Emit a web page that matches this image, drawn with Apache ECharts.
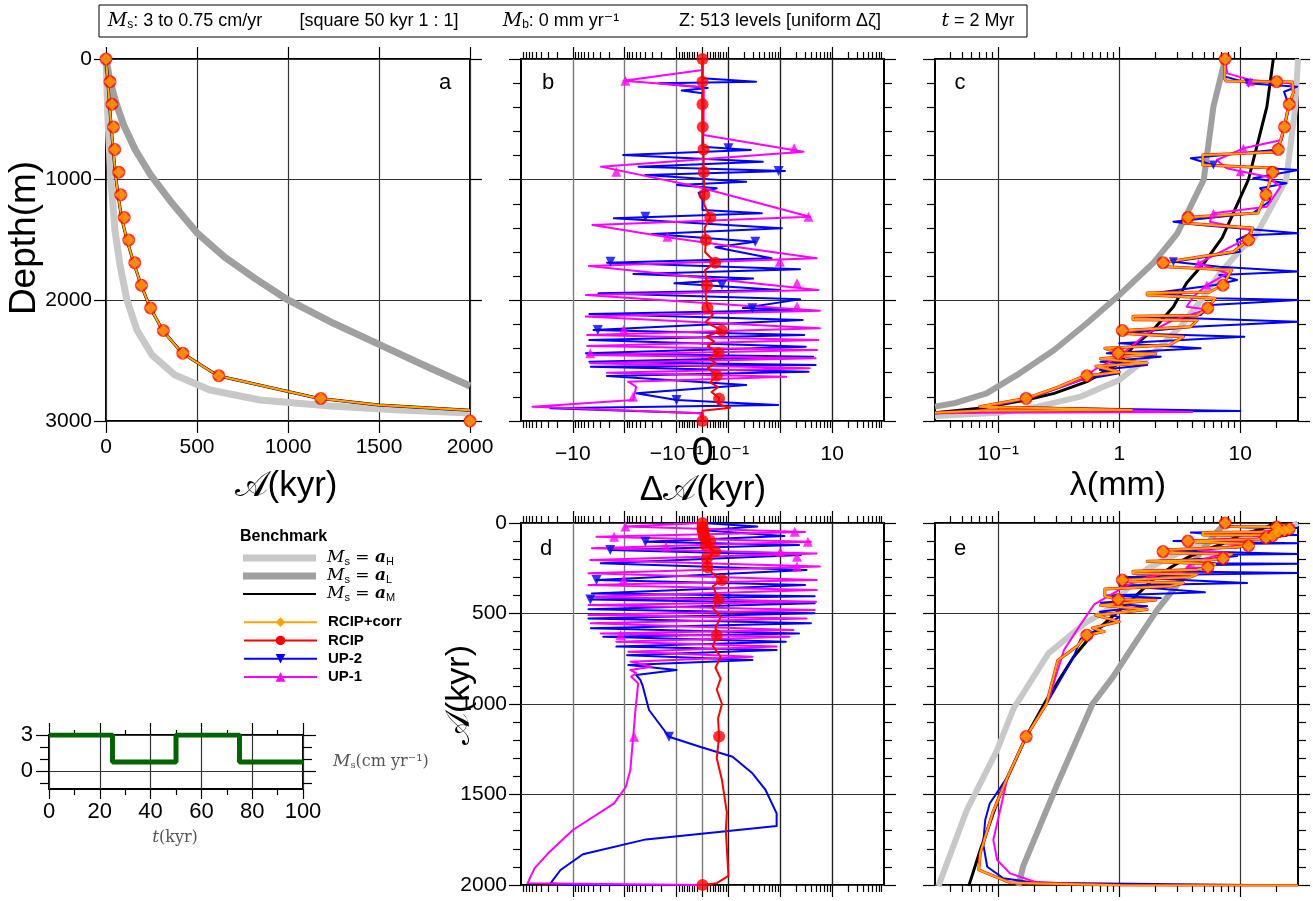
<!DOCTYPE html>
<html>
<head>
<meta charset="utf-8">
<script src="https://cdn.jsdelivr.net/npm/echarts@6/dist/echarts.min.js"></script>
<style>
html,body{margin:0;padding:0;background:#fff;}
#chart{width:1313px;height:901px;}
</style>
</head>
<body>
<div id="chart"></div>
<script>
// ================= DATA =================
// Marker layers (every 187.5 m): depth (m), age A (kyr), age error dA (kyr), layer thickness lambda (mm)
const markDepth = [0,187.5,375,562.5,750,937.5,1125,1312.5,1500,1687.5,1875,2062.5,2250,2437.5,2625,2812.5,3000];
const markAge   = [0,22,33,41,48,70,81,100,125,158,195,245,315,422,620,1180,2000];
const markDA    = [0,0,0,0.001,0.004,0.005,0.007,0.03,0.013,0.049,0.017,0.019,0.075,0.062,0.055,0.064,0];
const markLam   = [7.5,20,25.4,23.2,20.6,18.5,16.3,3.7,11.7,2.3,7.2,5.4,1.06,0.98,0.54,0.17,null];

// Panel a : [A (kyr), depth (m)]
const a_aH = [[0,0],[11,505],[27,1003],[49,1417],[77,1707],[115,1997],[170,2246],[253,2453],[379,2619],[571,2743],[846,2826],[1231,2876],[1615,2909],[2000,2934]];
const a_aL = [[0,0],[20,170],[50,340],[95,540],[160,750],[245,960],[355,1180],[500,1440],[650,1640],[820,1820],[1000,1997],[1250,2190],[1500,2365],[1750,2540],[2000,2710]];
const a_aM = [[0,0],[10,187],[19,375],[29,562],[39,750],[51,937],[66,1125],[85,1312],[115,1500],[152,1687],[193,1875],[243,2062],[312,2250],[418,2437],[615,2625],[1165,2812],[1500,2868],[2000,2910]];

// Panel b : [dA (kyr), depth (m)]
const b_up2 = [[0,0],[0,160],[0.34,188],[-0.22,201],[0.02,240],[-0.08,262],[0,284],[0,727],[0.27,754],[-1.07,796],[0.46,851],[-0.54,892],[1.23,928],[-0.4,961],[0.22,1017],[-0.098,1044],[0.055,1072],[-0.015,1108],[0,1168],[0,1251],[0.44,1279],[-1.62,1320],[1.07,1403],[-0.3,1450],[0.33,1514],[0.05,1560],[0.68,1652],[-2.19,1688],[2.4,1743],[-0.68,1782],[0.3,1820],[-0.11,1859],[0.98,1914],[-3.2,1942],[2.4,1992],[0.19,2064],[2.4,2080],[-4.8,2113],[2.7,2163],[-4.0,2246],[2.9,2287],[-4.8,2329],[3.1,2384],[-5.6,2439],[4.3,2467],[-4.8,2508],[4.8,2536],[-4.5,2550],[3.5,2591],[-2.2,2627],[0.22,2702],[-0.6,2770],[-0.1,2826],[0.91,2867],[-27,2895],[0,2936],[0,3000]];
const b_up2Marks = [[0.1,740],[0.93,928],[-0.4,1307],[0.33,1514],[-1.88,1680],[0.075,1873],[0.29,2066],[-3.3,2246],[-0.1,2826]];
const b_up1 = [[0,0],[0,91],[-1.05,180],[-0.01,230],[0.005,251],[0.004,630],[2.8,768],[-2.9,892],[-0.02,1058],[3.7,1307],[-4.2,1376],[-0.11,1486],[5.0,1652],[-4.9,1715],[5.4,1914],[-5.6,1956],[5.8,2086],[-5.6,2135],[5.8,2232],[-5.3,2287],[5.4,2329],[-5.3,2378],[5.1,2411],[-5.3,2453],[4.8,2481],[-4.6,2522],[3.7,2563],[-2.2,2600],[1.3,2633],[-0.86,2674],[-0.6,2716],[-0.69,2826],[-60,2881],[-0.01,2936],[0,3000]];
const b_up1Marks = [[-0.97,180],[1.85,740],[-1.45,934],[3.5,1307],[-0.15,1473],[0.98,1680],[2.1,1859],[2.1,2052],[-1.05,2246],[-4.6,2439],[-0.69,2798]];
const b_rcip = [[0,0],[0,187],[0,375],[0.001,562],[0.004,750],[0.005,937],[0.007,1125],[0.005,1200],[0.03,1312],[0.008,1400],[0.013,1500],[0.01,1600],[0.049,1687],[0.01,1750],[0.017,1875],[0.012,1950],[0.019,2062],[0.04,2120],[0.012,2180],[0.075,2250],[0.015,2300],[0.045,2340],[0.02,2380],[0.062,2437],[0.025,2480],[0.05,2520],[0.02,2560],[0.055,2625],[0.03,2680],[0.06,2720],[0.035,2760],[0.064,2812],[0.06,2860],[0.107,2890],[0,2915],[0,3000]];

// Panel c : [lambda (mm), depth (m)]
const c_aH = [[30,0],[28.5,395],[24,997],[13.3,1472],[10,1583],[6.8,1776],[5.0,1970],[3.2,2218],[1.9,2439],[1.0,2660],[0.48,2798],[0.21,2881],[0.1,2931],[0.043,2950],[0.03,2958]];
const c_aL = [[7.5,0],[6.0,395],[5.0,997],[3.0,1450],[1.9,1693],[1.0,1956],[0.54,2190],[0.29,2412],[0.15,2605],[0.08,2771],[0.043,2853],[0.03,2881]];
const c_aM = [[18.75,0],[16.6,395],[11.7,997],[7.1,1480],[5.0,1693],[3.6,1856],[2.8,2053],[1.9,2246],[1.3,2384],[1.0,2520],[0.54,2674],[0.29,2771],[0.17,2826],[0.07,2895],[0.03,2931]];
const c_corr = [[7.5,0],[7.4,160],[7.6,182],[20,188],[27,190],[27.5,280],[25.4,367],[23.2,555],[20.6,748],[20,770],[4.9,796],[4.9,878],[18.8,903],[18.5,942],[16.3,1121],[14,1276],[3.7,1312],[3.4,1334],[3.4,1359],[12.7,1400],[11.7,1500],[8.8,1597],[2.5,1680],[2.3,1688],[2.4,1721],[8.5,1749],[7.2,1873],[5.6,1931],[1.7,1939],[1.7,1956],[6.2,1983],[5.4,2064],[4.4,2125],[1.3,2132],[1.3,2160],[4.4,2166],[3.9,2218],[1.06,2250],[1.0,2273],[3.4,2301],[2.6,2370],[0.76,2398],[0.76,2412],[0.98,2437],[2.0,2442],[0.7,2484],[1.7,2519],[0.64,2546],[1.0,2594],[0.54,2625],[0.5,2635],[0.45,2650],[0.31,2720],[0.17,2812],[0.07,2881],[1.27,2909],[0.07,2915],[0.03,2931]];
const c_up2 = [[7.5,0],[7.5,146],[11.7,201],[29.5,229],[23,271],[25.4,395],[22,671],[18.9,754],[3.9,823],[6.0,878],[30,920],[12.8,989],[24.1,1030],[14.6,1072],[18,1168],[12.7,1279],[2.8,1348],[4.7,1376],[30,1445],[11.4,1460],[9.4,1500],[10,1597],[2.8,1680],[6.7,1721],[30,1762],[6.7,1790],[9.4,1831],[6.2,1873],[1.9,1942],[6.2,1983],[30,1997],[5.7,2038],[4.7,2121],[1.4,2135],[30,2177],[4.1,2218],[1.1,2273],[10.8,2301],[1.0,2356],[4.7,2398],[0.79,2439],[2.2,2467],[0.7,2508],[1.7,2536],[0.69,2577],[1.0,2605],[0.48,2660],[0.18,2812],[0.08,2881],[10,2917],[0.08,2925],[0.03,2936]];
const c_up2Marks = [[11.7,201],[6.0,878],[2.8,1680]];
const c_up1 = [[7.5,0],[7.8,119],[12.1,174],[26,201],[27.4,284],[24.1,450],[22,671],[10.6,740],[6.4,837],[7.7,906],[16.6,975],[21.5,1058],[16.6,1224],[6.0,1279],[5.6,1348],[12.1,1417],[11.4,1486],[4.5,1693],[7.8,1776],[5.3,1873],[4.1,1970],[3.6,2053],[5.3,2076],[2.8,2163],[1.7,2273],[1.3,2370],[1.0,2467],[0.62,2577],[0.48,2660],[0.18,2812],[0.081,2881],[4.0,2925],[0.07,2931],[0.03,2936]];
const c_up1Marks = [[12.1,188],[10.6,740],[10,934],[6.0,1279],[4.5,1693],[5.3,1873]];

// Panel d : [dA (kyr), A (kyr)]
const d_up2 = [[0,0],[0.36,20],[0,40],[1.2,72],[-0.4,103],[2.3,122],[-1.9,149],[2.5,177],[-2.9,223],[3.2,260],[-3.5,315],[3.0,343],[-4.3,389],[4.6,405],[-4.6,422],[4.6,444],[-5.0,477],[4.6,499],[-5.0,527],[3.9,554],[-4.5,582],[2.3,610],[-2.6,628],[1.28,656],[-1.45,683],[0.85,702],[-0.9,730],[0.29,757],[-0.85,785],[-0.1,812],[-0.6,840],[-0.5,867],[-0.45,900],[-0.34,1033],[-0.14,1181],[-0.01,1236],[0.12,1291],[0.29,1383],[0.52,1475],[0.85,1604],[0.85,1674],[-0.39,1748],[-6.4,1830],[-17.3,1917],[-27,1991],[-11,2000],[0,2000]];
const d_up2Marks = [[-0.4,103],[-1.9,149],[-3.5,315],[-4.6,422],[-0.14,1181]];
const d_up1 = [[0,0],[-0.97,20],[3.0,50],[-3.5,76],[3.9,103],[-4.3,140],[5.0,168],[-4.6,204],[5.8,241],[-5.0,278],[5.0,315],[-5.0,343],[5.0,370],[-5.0,407],[4.9,435],[-5.0,453],[4.6,481],[-5.0,508],[3.2,527],[-4.5,554],[1.8,591],[-2.9,610],[1.5,628],[-1.45,656],[0.85,683],[-0.85,711],[0.29,739],[-0.78,766],[-0.3,794],[-0.78,812],[-0.6,830],[-0.75,849],[-0.55,886],[-0.62,1033],[-0.78,1365],[-0.95,1457],[-1.6,1549],[-10,1696],[-30,1825],[-55,1908],[-75,1991],[0,2000]];
const d_up1Marks = [[-0.97,20],[1.9,48],[-1.6,76],[3.4,103],[-0.16,131],[1.0,159],[2.1,186],[2.1,241],[-1.05,315],[-1.2,619],[-0.66,1181]];
const d_rcip = [[0,0],[0.005,22],[0.01,41],[0.02,66],[0.01,81],[0.03,100],[0.013,125],[0.049,158],[0.017,195],[0.019,245],[0.04,280],[0.075,315],[0.04,350],[0.062,422],[0.04,470],[0.07,520],[0.05,580],[0.055,620],[0.04,680],[0.07,740],[0.05,800],[0.07,860],[0.055,920],[0.075,1000],[0.06,1080],[0.064,1180],[0.055,1300],[0.075,1420],[0.094,1600],[0.09,1700],[0.1,1950],[0.055,1990],[0,2000]];

// Panel e : [lambda (mm), A (kyr)]
const e_aH = [[30,0],[28,11],[24,27],[14.5,49],[8,77],[5,115],[3.0,170],[1.7,253],[1.1,379],[0.89,462],[0.52,554],[0.26,720],[0.134,1024],[0.098,1254],[0.055,1586],[0.032,2006]];
const e_aL = [[7.5,0],[6.2,60],[4.6,170],[3.4,297],[2.05,481],[1.3,680],[0.89,849],[0.6,1000],[0.31,1438],[0.16,1899],[0.147,2006]];
const e_aM = [[18.75,0],[17,19],[14,39],[10,66],[7.1,115],[5.0,152],[3.6,193],[2.7,243],[1.9,312],[1.3,418],[0.8,540],[0.6,615],[0.42,739],[0.25,978],[0.17,1180],[0.104,1494],[0.071,1807],[0.057,2006]];
const e_corr = [[7.5,0],[7.5,20],[20,22],[27,24],[27.4,28],[25.4,33],[23.2,41],[20.6,48],[20,50],[4.9,52],[4.9,66],[18.8,68],[18.5,70],[16.3,81],[14,90],[3.7,100],[3.4,102],[3.4,112],[12.7,116],[11.7,125],[8.8,134],[2.5,148],[2.3,158],[2.4,164],[8.5,172],[7.2,195],[5.6,205],[1.7,212],[1.7,222],[6.2,228],[5.4,245],[4.4,258],[1.3,266],[1.3,278],[4.4,284],[3.9,298],[1.06,315],[1.0,322],[3.4,332],[2.6,350],[0.76,365],[0.76,405],[0.98,422],[2.0,426],[0.7,455],[1.7,478],[0.64,510],[1.0,545],[0.6,580],[0.75,600],[0.54,620],[0.5,640],[0.45,680],[0.31,760],[0.25,1000],[0.17,1180],[0.12,1400],[0.09,1600],[0.071,1825],[0.069,1917],[0.125,1987],[1.0,2002],[30,2003]];
const e_up2 = [[7.5,0],[7.5,20],[11.7,25],[30,28],[23,31],[25.4,38],[22,45],[18.9,48],[3.9,53],[6.0,62],[30,66],[12.8,70],[24.1,72],[14.6,75],[18,79],[12.7,90],[2.8,100],[4.7,104],[30,112],[11.4,115],[9.4,125],[10,134],[2.8,150],[6.7,160],[30,171],[6.7,175],[9.4,182],[6.2,195],[1.9,212],[6.2,222],[30,225],[5.7,232],[4.7,255],[1.4,265],[30,276],[4.1,284],[1.1,300],[11.4,331],[1.0,345],[5.1,383],[0.79,400],[2.2,415],[0.7,440],[1.7,460],[0.69,490],[1.0,520],[0.48,640],[0.42,739],[0.25,1000],[0.17,1180],[0.12,1400],[0.085,1550],[0.078,1641],[0.075,1770],[0.081,1899],[0.11,1963],[0.2,1987],[30,2003]];
const e_up1 = [[7.5,0],[7.8,16],[12.1,22],[26,24],[27.4,28],[24.1,35],[22,45],[10.6,50],[6.4,60],[7.7,66],[16.6,70],[21.5,74],[16.6,84],[6.0,90],[5.6,100],[12.1,110],[11.4,118],[4.5,150],[7.8,165],[5.3,195],[4.1,220],[3.6,245],[5.3,250],[2.8,270],[1.7,300],[1.3,330],[1.0,370],[0.62,450],[0.48,560],[0.35,700],[0.26,978],[0.17,1180],[0.12,1400],[0.091,1751],[0.098,1862],[0.125,1936],[0.2,1982],[0.7,2002],[30,2003]];

// Inset : surface accumulation Ms (cm/yr) vs t (kyr), piecewise constant
const insetT  = [0,25,50,75,100];
const insetMs = [3,0.75,3,0.75,0.75];

// Tick labels
const symTickLabels = {'-2.5':'−10','-0.5':'−10⁻¹','0':'{big|0}','0.5':'10⁻¹','2.5':'10'};
const logTickLabels = {'-1':'10⁻¹','0':'1','1':'10'};

// ================= SCALES =================
const sym = v => { const a = Math.abs(v); return a <= 0.1 ? 5 * v : Math.sign(v) * (0.5 + Math.log10(a / 0.1)); };
const lg = v => Math.log10(v);
const SMIN = -3.5, SMAX = 3.5, LMIN = lg(0.03), LMAX = lg(30);
const symMajor = [-2.5,-1.5,-0.5,0,0.5,1.5,2.5];
const symLabelVals = [-2.5,-0.5,0,0.5,2.5];
const symMinor = [];
[-1,1].forEach(s => {
  for (let m = 2; m <= 9; m++) {
    symMinor.push(s * 5 * m * 0.01);
    [0.1,1,10].forEach(d => { const u = s * sym(m * d); if (Math.abs(u) < 3.5) symMinor.push(u); });
  }
});
const logMajor = [-1,0,1];
const logMinor = [];
[-2,-1,0,1].forEach(k => { for (let m = 2; m <= 9; m++) { const u = k + Math.log10(m); if (u > LMIN && u < LMAX) logMinor.push(u); } });

// ================= AXES =================
const F = "'Liberation Sans','DejaVu Sans',sans-serif";
const SERIF = "'DejaVu Serif','Liberation Serif',serif";
const GRIDC = {color:'#333', width:1.2};
const SYMGRID = {color:['#7a7a7a','#7a7a7a','#7a7a7a','#7a7a7a','#222','#222','#222'], width:1.4};
const xAxis = [], yAxis = [], XI = [], YI = [];
function ax(list, gi, pos, min, max, o) {
  list.push(Object.assign({gridIndex:gi, type:'value', position:pos, min:min, max:max,
    axisLine:{show:false, onZero:false}, splitLine:{show:false}, axisLabel:{show:false},
    axisTick:{show:false}, minorTick:{show:false}, minorSplitLine:{show:false}, splitArea:{show:false}}, o || {}));
  return list.length - 1;
}
function tk(len, vals) { const t = {show:true, inside:false, length:len, lineStyle:{color:'#000', width:1.2}}; if (vals) t.customValues = vals; return t; }
const mtk = (n, len) => ({show:true, splitNumber:n, length:len, lineStyle:{color:'#000', width:1.2}});
const plain = v => String(v);
const lab = o => Object.assign({show:true, color:'#000', fontFamily:F, fontSize:21, lineHeight:22, formatter:plain}, o);
const symFmt = v => symTickLabels[String(Math.round(v * 10) / 10)] || '';
const logFmt = v => logTickLabels[String(Math.round(v))] || '';

// a
XI[0] = ax(xAxis,0,'bottom',0,2000,{interval:500, axisTick:tk(12), axisLabel:lab({margin:15}), splitLine:{show:true, lineStyle:GRIDC}});
ax(xAxis,0,'top',0,2000,{interval:500, axisTick:tk(12)});
YI[0] = ax(yAxis,0,'left',0,3000,{inverse:true, interval:1000, axisTick:tk(12), axisLabel:lab({margin:14}), splitLine:{show:true, lineStyle:GRIDC}});
ax(yAxis,0,'right',0,3000,{inverse:true, interval:1000, axisTick:tk(12)});
// b, d (symlog x)
function symX(g, labels) {
  const main = ax(xAxis,g,'bottom',SMIN,SMAX,{axisTick:tk(12,symMajor), splitLine:{show:true, lineStyle:SYMGRID},
    axisLabel: labels ? lab({margin:22, customValues:symLabelVals, formatter:symFmt, rich:{big:{fontSize:40, lineHeight:22, fontFamily:F, color:'#000'}}}) : {show:false}});
  ax(xAxis,g,'top',SMIN,SMAX,{axisTick:tk(12,symMajor)});
  ax(xAxis,g,'bottom',SMIN,SMAX,{axisTick:tk(7,symMinor)});
  ax(xAxis,g,'top',SMIN,SMAX,{axisTick:tk(7,symMinor)});
  return main;
}
function logX(g, labels) {
  const main = ax(xAxis,g,'bottom',LMIN,LMAX,{axisTick:tk(12,logMajor), splitLine:{show:true, lineStyle:GRIDC},
    axisLabel: labels ? lab({margin:22, customValues:logMajor, formatter:logFmt}) : {show:false}});
  ax(xAxis,g,'top',LMIN,LMAX,{axisTick:tk(12,logMajor)});
  ax(xAxis,g,'bottom',LMIN,LMAX,{axisTick:tk(7,logMinor)});
  ax(xAxis,g,'top',LMIN,LMAX,{axisTick:tk(7,logMinor)});
  return main;
}
function depthY(g, max, iv, labels) {
  const main = ax(yAxis,g,'left',0,max,{inverse:true, interval:iv, axisTick:tk(12), minorTick:mtk(5,8),
    splitLine:{show:true, lineStyle:GRIDC}, axisLabel: labels ? lab({margin:14}) : {show:false}});
  ax(yAxis,g,'right',0,max,{inverse:true, interval:iv, axisTick:tk(12), minorTick:mtk(5,8)});
  return main;
}
XI[1] = symX(1, true);  YI[1] = depthY(1, 3000, 1000, false);
XI[2] = logX(2, true);  YI[2] = depthY(2, 3000, 1000, false);
XI[3] = symX(3, false); YI[3] = depthY(3, 2000, 500, true);
XI[4] = logX(4, false); YI[4] = depthY(4, 2000, 500, false);
// inset
XI[5] = ax(xAxis,5,'bottom',0,100,{interval:20, axisTick:tk(10), minorTick:mtk(2,6), axisLabel:lab({fontSize:22, margin:12}), splitLine:{show:true, lineStyle:GRIDC}});
ax(xAxis,5,'top',0,100,{interval:20, axisTick:tk(12), minorTick:mtk(2,5)});
YI[5] = ax(yAxis,5,'left',-1.5,3,{axisTick:tk(13,[0,3]), axisLabel:lab({fontSize:22, margin:16, customValues:[0,3]}), splitLine:{show:true, lineStyle:GRIDC}});
ax(yAxis,5,'left',-1.5,3,{axisTick:tk(9,[-1,1,2])});
ax(yAxis,5,'right',-1.5,3,{axisTick:tk(13,[0,3])});
ax(yAxis,5,'right',-1.5,3,{axisTick:tk(9,[-1,1,2])});

// ================= SERIES =================
const C = {aH:'#c8c8c8', aL:'#a0a0a0', aM:'#000000', corr:'#ffa500', rcip:'#ff0000', up2:'#0000ff', up1:'#ff00ff'};
const DOWN = 'path://M0,0L10,0L5,9Z';
const series = [];
function L(name, g, pts, fx, color, width, z, symbol) {
  series.push({type:'line', name:name, xAxisIndex:XI[g], yAxisIndex:YI[g],
    data: pts.map(p => [fx ? fx(p[0]) : p[0], p[1]]), color:color,
    lineStyle:{width:width, color:color, join:'round'}, showSymbol:false, symbol:symbol || 'none', symbolSize:10,
    z:z, silent:true, animation:false, smooth:false});
}
function M(name, g, xs, ys, fx, color, symbol, size, z) {
  const data = [];
  xs.forEach((x, i) => { if (x != null && ys[i] != null) data.push([fx ? fx(x) : x, ys[i]]); });
  series.push({type:'scatter', name:name, xAxisIndex:XI[g], yAxisIndex:YI[g], data:data, color:color,
    symbol:symbol, symbolSize:size, z:z, silent:true, animation:false});
}
const P = (name, g, pts, fx, color, symbol, size, z) => M(name, g, pts.map(p => p[0]), pts.map(p => p[1]), fx, color, symbol, size, z);

// a
L('aH',0,a_aH,null,C.aH,7,2); L('aL',0,a_aL,null,C.aL,7,2); L('aM',0,a_aM,null,C.aM,3,3);
L('RCIP',0,a_aM,null,C.rcip,2,6,'circle'); L('RCIP+corr',0,a_aM,null,C.corr,2,7,'diamond');
M('RCIP',0,markAge,markDepth,null,C.rcip,'circle',13,8); M('RCIP+corr',0,markAge,markDepth,null,C.corr,'diamond',12,9);
// b
L('UP-2',1,b_up2,sym,C.up2,2,4,DOWN); L('UP-1',1,b_up1,sym,C.up1,2,5,'triangle'); L('RCIP',1,b_rcip,sym,C.rcip,2,6,'circle');
P('UP-2',1,b_up2Marks,sym,C.up2,DOWN,10,8); P('UP-1',1,b_up1Marks,sym,C.up1,'triangle',10,8);
M('RCIP',1,markDA,markDepth,sym,C.rcip,'circle',12,9);
// c
L('aH',2,c_aH,lg,C.aH,6,2); L('aL',2,c_aL,lg,C.aL,6,2); L('aM',2,c_aM,lg,C.aM,3,3);
L('UP-2',2,c_up2,lg,C.up2,2,4,DOWN); L('UP-1',2,c_up1,lg,C.up1,2,5,'triangle');
L('RCIP',2,c_corr,lg,C.rcip,3,6,'circle'); L('RCIP+corr',2,c_corr,lg,C.corr,2,7,'diamond');
P('UP-2',2,c_up2Marks,lg,C.up2,DOWN,9,8); P('UP-1',2,c_up1Marks,lg,C.up1,'triangle',9,8);
M('RCIP',2,markLam,markDepth,lg,C.rcip,'circle',13,8); M('RCIP+corr',2,markLam,markDepth,lg,C.corr,'diamond',12,9);
// d
L('UP-2',3,d_up2,sym,C.up2,2,4,DOWN); L('UP-1',3,d_up1,sym,C.up1,2,5,'triangle'); L('RCIP',3,d_rcip,sym,C.rcip,2,6,'circle');
P('UP-2',3,d_up2Marks,sym,C.up2,DOWN,10,8); P('UP-1',3,d_up1Marks,sym,C.up1,'triangle',10,8);
M('RCIP',3,markDA,markAge,sym,C.rcip,'circle',12,9);
// e
L('aH',4,e_aH,lg,C.aH,6,2); L('aL',4,e_aL,lg,C.aL,6,2); L('aM',4,e_aM,lg,C.aM,3,3);
L('UP-2',4,e_up2,lg,C.up2,2,4,DOWN); L('UP-1',4,e_up1,lg,C.up1,2,5,'triangle');
L('RCIP',4,e_corr,lg,C.rcip,3,6,'circle'); L('RCIP+corr',4,e_corr,lg,C.corr,2,7,'diamond');
M('RCIP',4,markLam,markAge,lg,C.rcip,'circle',13,8); M('RCIP+corr',4,markLam,markAge,lg,C.corr,'diamond',12,9);
// inset
series.push({type:'line', name:'Ms', xAxisIndex:XI[5], yAxisIndex:YI[5], step:'end',
  data: insetT.map((t, i) => [t, insetMs[i]]), color:'#006400', lineStyle:{width:5, color:'#006400'},
  showSymbol:false, symbol:'none', z:5, silent:true, animation:false});

// ================= TEXT =================
const t = (x, y, text, o, extra) => Object.assign({type:'text', x:x, y:y, silent:true,
  style:Object.assign({text:text, fill:'#000', fontFamily:F, fontSize:21, align:'left', verticalAlign:'middle'}, o || {})}, extra || {});
const mathRich = {
  i:{fontFamily:SERIF, fontStyle:'italic', fontSize:19},
  s:{fontFamily:F, fontSize:12, verticalAlign:'bottom'}
};
const graphic = [
  {type:'rect', shape:{x:99, y:5, width:928, height:32}, style:{fill:'#fff', stroke:'#000', lineWidth:1}, silent:true},
  t(185, 21, '{i|M}{s|s}: 3 to 0.75 cm/yr', {fontSize:18, align:'center', rich:mathRich}),
  t(379, 21, '[square 50 kyr 1 : 1]', {fontSize:18, align:'center'}),
  t(561, 21, '{i|M}{s|b}: 0 mm yr⁻¹', {fontSize:18, align:'center', rich:mathRich}),
  t(780, 21, 'Z: 513 levels [uniform Δζ]', {fontSize:18, align:'center'}),
  t(978, 21, '{i|t} = 2 Myr', {fontSize:18, align:'center', rich:mathRich}),
  // panel letters
  t(445, 83, 'a', {fontSize:22, align:'center'}),
  t(548, 83, 'b', {fontSize:22, align:'center'}),
  t(960, 83, 'c', {fontSize:22, align:'center'}),
  t(546, 549, 'd', {fontSize:22, align:'center'}),
  t(960, 549, 'e', {fontSize:22, align:'center'}),
  // axis titles
  t(25, 238, 'Depth(m)', {fontSize:37, align:'center'}, {rotation:Math.PI/2}),
  t(286, 486, '𝒜(kyr)', {fontSize:35, align:'center'}),
  t(703, 490, 'Δ𝒜(kyr)', {fontSize:35, align:'center'}),
  t(1118, 486, 'λ(mm)', {fontSize:34, align:'center'}),
  t(460, 695, '𝒜(kyr)', {fontSize:34, align:'center'}, {rotation:Math.PI/2}),
  // legend header
  t(240, 537, 'Benchmark', {fontSize:16, fontWeight:'bold'}),
  // inset labels
  t(175, 838, '{i|t}(kyr)', {fontFamily:SERIF, fontSize:16, fill:'#555', align:'center', rich:{i:{fontFamily:SERIF, fontStyle:'italic', fontSize:17, fill:'#555'}}}),
  t(333, 762, '{i|M}{s|s}(cm yr⁻¹)', {fontFamily:SERIF, fontSize:16, fill:'#555',
    rich:{i:{fontFamily:SERIF, fontStyle:'italic', fontSize:17, fill:'#555'}, s:{fontFamily:SERIF, fontSize:10, fill:'#555', verticalAlign:'bottom'}}})
];

const benchRich = {
  m:{fontFamily:SERIF, fontStyle:'italic', fontSize:17, lineHeight:18},
  s:{fontFamily:F, fontSize:11, verticalAlign:'bottom', lineHeight:18},
  e:{fontFamily:SERIF, fontSize:17, lineHeight:18},
  b:{fontFamily:SERIF, fontStyle:'italic', fontWeight:'bold', fontSize:17, lineHeight:18}
};
const benchNames = {aH:'{m|M}{s|s}{e| = }{b|a}{s|H}', aL:'{m|M}{s|s}{e| = }{b|a}{s|L}', aM:'{m|M}{s|s}{e| = }{b|a}{s|M}'};

const option = {
  animation:false,
  backgroundColor:'#fff',
  grid:[
    {left:106, top:59, width:364, height:362},
    {left:521, top:59, width:363, height:362},
    {left:935, top:59, width:363, height:362},
    {left:521, top:523, width:363, height:362},
    {left:935, top:523, width:363, height:362},
    {left:49, top:735, width:254, height:54}
  ].map(g => Object.assign({show:true, borderColor:'#000', borderWidth:2, backgroundColor:'transparent', containLabel:false}, g)),
  xAxis:xAxis,
  yAxis:yAxis,
  legend:[
    {left:238, top:544, orient:'vertical', itemWidth:73, itemHeight:7, itemGap:0, selectedMode:false,
      data:[{name:'aH', icon:'rect'},{name:'aL', icon:'rect'},{name:'aM', icon:'path://M0,0h0.01v0.01h-0.01zM0,2h100v3h-100zM0,6.99h0.01v0.01h-0.01z'}],
      formatter: n => benchNames[n],
      textStyle:{color:'#000', fontFamily:SERIF, fontSize:17, lineHeight:18, padding:[0,0,0,6], rich:benchRich}},
    {left:238, top:608, orient:'vertical', itemWidth:73, itemHeight:12, itemGap:0, selectedMode:false,
      data:['RCIP+corr','RCIP','UP-2','UP-1'],
      textStyle:{color:'#000', fontFamily:F, fontWeight:'bold', fontSize:15, lineHeight:18.3, padding:[0,0,0,6]}}
  ],
  graphic:graphic,
  series:series
};
const chart = echarts.init(document.getElementById('chart'), null, {renderer:'canvas'});
chart.setOption(option);
</script>
</body>
</html>
